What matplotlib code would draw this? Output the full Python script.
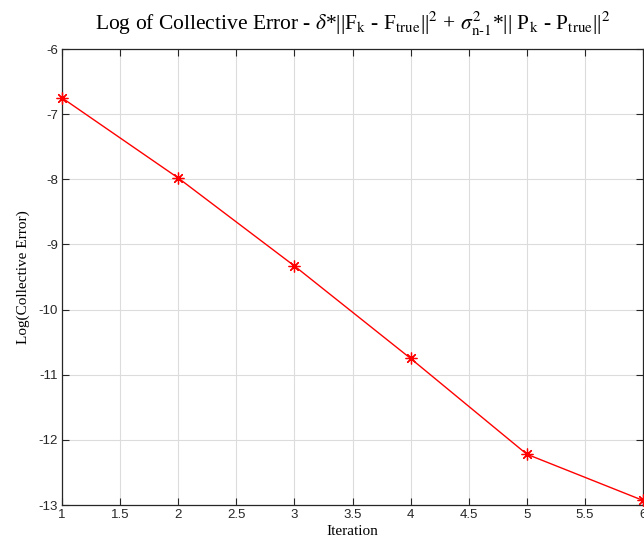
import matplotlib
matplotlib.use('Agg')
import matplotlib.pyplot as plt

iterations = [1, 2, 3, 4, 5, 6]
logError = [-6.75, -7.98, -9.33, -10.75, -12.22, -12.93]
xTicks = [1, 1.5, 2, 2.5, 3, 3.5, 4, 4.5, 5, 5.5, 6]
yTicks = [-13, -12, -11, -10, -9, -8, -7, -6]

plt.rcParams['font.family'] = 'Liberation Sans'
plt.rcParams['mathtext.fontset'] = 'stix'

fig = plt.figure(figsize=(6.44, 5.44), dpi=100)
ax = fig.add_axes([62 / 644, 1 - 505 / 544, 581 / 644, 456 / 544])

# MATLAB-style asterisk marker: 8 spokes
ax.plot(iterations, logError, color='red', linewidth=1.0, marker=(8, 2, 0),
        markersize=8.5, markeredgewidth=0.9, clip_on=False, zorder=3)

ax.set_xlim(1, 6)
ax.set_ylim(-13, -6)
ax.set_xticks(xTicks)
ax.set_xticklabels([('%g' % t) for t in xTicks])
ax.set_yticks(yTicks)
ax.set_yticklabels([str(t) for t in yTicks])
ax.tick_params(direction='in', top=True, right=True, labelsize=9.5, length=5,
               width=0.8, colors='#262626', pad=3)
ax.grid(True, color='#dcdcdc', linewidth=0.8)
ax.set_axisbelow(True)
for s in ax.spines.values():
    s.set_color('#262626')
    s.set_linewidth(0.9)

ax.set_xlabel('Iteration', family='Liberation Serif', fontsize=11, labelpad=3)
ax.set_ylabel('Log(Collective Error)', family='Liberation Serif', fontsize=11, labelpad=6)
ax.set_title(r'Log of Collective Error - $\delta$*||F$_{\rm k}$ - F$_{\rm true}$||$^2$ + '
             r'$\sigma^2_{\rm n\text{-}1}$*|| P$_{\rm k}$ - P$_{\rm true}$||$^2$',
             family='Liberation Serif', fontsize=15.5, pad=14)

fig.savefig('out.png', dpi=100)
